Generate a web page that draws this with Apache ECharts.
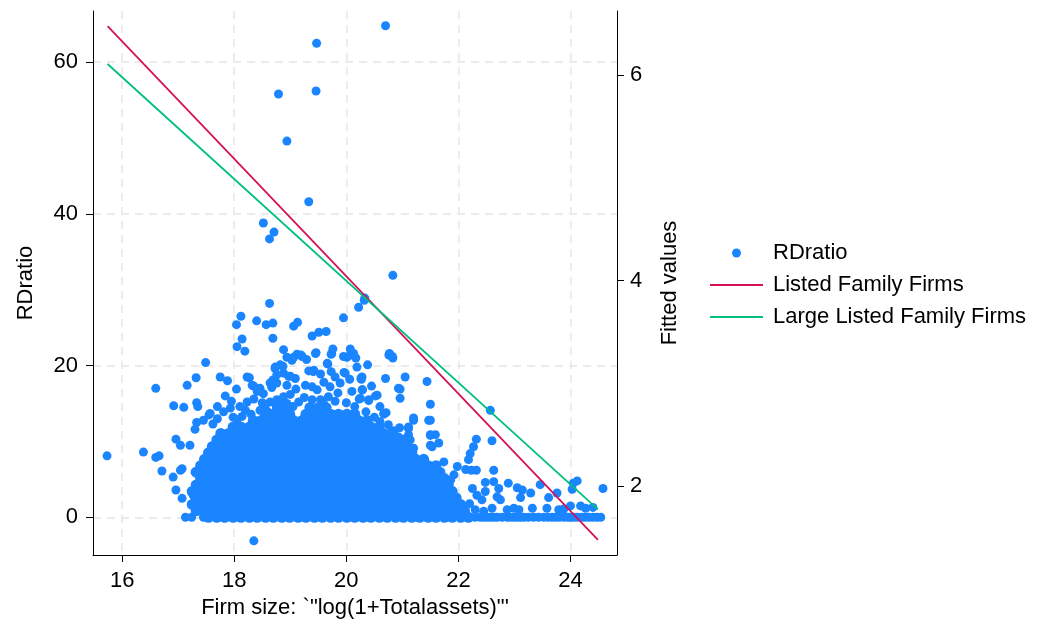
<!DOCTYPE html>
<html>
<head>
<meta charset="utf-8">
<style>
html,body{margin:0;padding:0;background:#fff;}
#chart{width:1043px;height:625px;}
</style>
<script src="https://cdn.jsdelivr.net/npm/echarts@6/dist/echarts.min.js"></script>
</head>
<body>
<div id="chart"></div>
<script>
// ---- tick labels ----
const xTicks = [16, 18, 20, 22, 24];
const yLeftTicks = [0, 20, 40, 60];
const yRightTicks = [2, 4, 6];

// ---- series names ----
const seriesNames = ['RDratio', 'Listed Family Firms', 'Large Listed Family Firms'];

// ---- RDratio: scattered points [x, y] ----
const rdScattered = [
  [20.70,64.8],[19.47,62.5],[18.79,55.8],[19.46,56.2],[18.94,49.6],[19.33,41.6],[18.52,38.8],[18.71,37.6],[18.63,36.7],[20.83,31.9],[20.33,28.9],
  [18.63,28.2],[20.22,27.7],[20.32,28.6],[18.12,26.5],[18.04,25.4],[18.40,25.9],[18.57,25.4],[18.69,25.6],[18.69,23.6],[19.06,25.2],[19.13,25.7],[19.95,26.3],
  [19.39,23.9],[19.51,24.4],[19.64,24.5],[18.14,23.5],[18.05,22.5],[18.19,21.9],
  [18.88,22.1],[18.94,21.1],[19.03,20.7],[19.19,21.4],[19.29,20.8],[19.46,21.7],[19.76,22.2],[19.73,21.5],[20.07,22.2],[20.01,21.1],[20.17,21.0],[17.49,20.4],
  [18.73,19.8],[18.87,19.9],[18.76,18.8],[18.69,18.1],[19.00,18.6],[19.09,18.3],[17.75,18.5],[17.88,18.0],[18.23,18.5],[18.27,18.4],[17.32,18.4],[17.16,17.4],[16.60,17.0],[18.04,16.9],
  [18.35,17.3],[18.46,17.0],[18.52,16.3],[18.67,17.1],[18.94,17.4],[19.33,19.3],[19.41,19.2],[19.54,18.9],[19.67,20.2],[19.73,19.2],[19.96,19.1],[20.06,18.2],[20.19,19.8],[20.26,18.3],[20.38,20.1],
  [17.84,16.0],[16.92,14.7],[17.10,14.5],[17.33,15.1],[17.35,14.6],[17.55,13.5],[17.45,12.8],[17.30,11.6],[16.96,10.3],
  [15.73,8.1],[16.38,8.6],[16.60,7.9],[16.66,8.1],[16.71,6.1],[16.91,5.3],[17.04,6.2],[17.07,6.4],[17.04,9.5],[17.21,9.5],[17.33,12.5],
  [16.96,3.6],[17.07,2.5],[17.27,2.9],[17.13,0],[17.24,0],[17.45,0],[18.35,-3.1],
  [17.81,13.9],[17.93,14.4],[17.57,13.7],[18.32,17.4],[18.41,16.6],[18.64,17.7],[18.73,19.6],[18.82,20.1],[18.88,19.0],[18.97,18.6],[18.76,17.7],
  [18.23,15.2],[18.20,14.1],[18.14,13.3],[18.46,14.1],[18.64,15.2],[18.76,15.5],[18.94,15.0],[18.88,15.9],[19.42,19.4],[19.66,20.3],[19.74,21.6],
  [19.45,21.6],[19.12,21.5],[19.06,21.1],[19.21,21.2],[19.27,17.4],[19.39,17.2],[19.48,16.8],[19.54,15.5],[19.39,15.5],[19.71,17.2],[19.89,17.7],
  [19.98,19.0],[20.10,16.6],[20.28,16.8],[20.25,15.7],[20.40,15.5],[20.55,16.1],[19.95,21.2],[20.07,21.4],[20.28,18.5],[20.13,21.6],[20.67,13.7],
  [20.76,21.4],[20.82,21.2],[20.93,17.0],[20.96,15.7],[21.05,18.5],[20.70,18.3],[21.44,17.9],[21.50,14.9],[21.47,12.8],[21.20,13.1],[21.11,11.7],
  [20.93,10.6],[21.14,10.2],[21.20,9.1],[21.14,7.6],[21.50,10.9],[21.59,10.9],[21.53,9.3],[21.65,9.8],
  [22.57,14.1],[20.96,16.9],[20.77,21.6],[20.83,21.0],[20.27,18.2],[20.29,16.8],[20.23,15.6],[20.40,15.4],[20.52,16.0],[20.67,13.6],[20.71,13.8],
  [22.32,10.3],[22.60,10.1],
  [24.58,3.8],[24.12,4.8],[24.05,4.5],[24.03,3.7],[23.76,3.2],[23.61,2.6],[23.46,4.3],[23.29,3.2],[23.11,2.6],[23.14,3.6],[23.05,3.9],[22.89,4.5],
  [22.72,3.8],[22.63,4.7],[22.48,4.6],[22.27,9.3],[22.21,8.4],[22.18,7.6],[22.23,6.2],[22.32,6.2],[22.63,6.2],[21.74,7.3],[21.41,6.6],[21.50,9.5],
  [21.50,10.8],[21.11,11.9],[21.20,12.8],[21.50,12.8],[21.11,10.9],[20.95,9.3],[21.98,6.7],[22.13,6.3],[21.92,5.6],[21.86,4.9],
  [22.99,1.2],[22.87,1.0],[23.08,1.0],[23.32,1.2],[23.58,1.2],[23.79,1.0],[23.88,1.1],[24.00,1.5],[24.18,1.5],[24.27,1.2],[24.40,1.3],
  [24.12,0],[23.73,0],[23.52,0],[23.34,0],[23.17,0],[23.05,0],[22.87,0],[22.69,0],[22.51,0],[22.39,0],[22.30,0],[24.00,0],[24.33,0],[24.54,0],
  [23.88,0],[23.67,0],[22.99,0],[22.78,0],[22.57,0],
  [22.45,0],[22.63,0],[22.93,0],[23.11,0],[23.25,0],[23.43,0],[23.60,0],[23.80,0],[23.95,0],[24.06,0],[24.20,0],[24.26,0],[24.40,0],[24.47,0],
  [22.69,2.7],[22.75,2.3],[22.48,3.4],[22.42,2.3],[22.33,2.9],[22.25,3.8],[22.30,1.0],[22.45,0.8],[22.60,1.2],[22.20,1.8],
  [17.62,12.3],[17.70,13.0],[17.98,13.2],[18.05,12.9],[18.30,13.6],[18.55,14.4],[18.60,13.9],[18.85,14.9],[19.05,14.6],[19.15,15.2],[19.25,15.8],
  [19.60,14.9],[19.68,15.9],[19.80,15.3],[19.85,16.4],[20.00,15.1],[20.15,14.6],[20.35,13.9],[20.50,13.2],[20.60,12.6],[20.75,12.2],[20.85,11.4],
  [20.95,11.8],[18.10,14.6],[18.35,15.6],[18.50,15.1],[19.00,16.2],[19.10,16.9],[19.60,17.8],[19.80,18.5],[20.45,17.3],[20.60,14.6],[17.95,15.3],[17.70,14.6]
];

// ---- RDratio: dense core, one RDratio level per row with the firm sizes in that row ----
const coreRowY = [0, 0.85, 1.7, 2.55, 3.4, 4.25, 5.1, 5.95, 6.8, 7.65, 8.5, 9.35, 10.2, 11.05, 11.9, 12.75, 13.6, 14.45];
const coreRowX = [
  [17.54,17.69,17.83,17.98,18.12,18.27,18.41,18.56,18.70,18.85,18.99,19.14,19.28,19.43,19.57,19.72,19.86,20.01,20.15,20.30,20.44,20.59,20.73,20.88,21.02,21.17,21.31,21.46,21.60,21.75,21.89,22.04,22.18],
  [17.32,17.47,17.61,17.76,17.90,18.05,18.19,18.34,18.48,18.63,18.77,18.92,19.06,19.21,19.35,19.50,19.64,19.79,19.93,20.08,20.22,20.37,20.51,20.66,20.80,20.95,21.09,21.24,21.38,21.53,21.67,21.82,21.96,22.11],
  [17.25,17.40,17.54,17.69,17.83,17.98,18.12,18.27,18.41,18.56,18.70,18.85,18.99,19.14,19.28,19.43,19.57,19.72,19.86,20.01,20.15,20.30,20.44,20.59,20.73,20.88,21.02,21.17,21.31,21.46,21.60,21.75,21.89,22.04],
  [17.32,17.47,17.61,17.76,17.90,18.05,18.19,18.34,18.48,18.63,18.77,18.92,19.06,19.21,19.35,19.50,19.64,19.79,19.93,20.08,20.22,20.37,20.51,20.66,20.80,20.95,21.09,21.24,21.38,21.53,21.67,21.82,21.96],
  [17.25,17.40,17.54,17.69,17.83,17.98,18.12,18.27,18.41,18.56,18.70,18.85,18.99,19.14,19.28,19.43,19.57,19.72,19.86,20.01,20.15,20.30,20.44,20.59,20.73,20.88,21.02,21.17,21.31,21.46,21.60,21.75,21.89],
  [17.32,17.47,17.61,17.76,17.90,18.05,18.19,18.34,18.48,18.63,18.77,18.92,19.06,19.21,19.35,19.50,19.64,19.79,19.93,20.08,20.22,20.37,20.51,20.66,20.80,20.95,21.09,21.24,21.38,21.53,21.67,21.82],
  [17.40,17.54,17.69,17.83,17.98,18.12,18.27,18.41,18.56,18.70,18.85,18.99,19.14,19.28,19.43,19.57,19.72,19.86,20.01,20.15,20.30,20.44,20.59,20.73,20.88,21.02,21.17,21.31,21.46,21.60,21.75],
  [17.32,17.47,17.61,17.76,17.90,18.05,18.19,18.34,18.48,18.63,18.77,18.92,19.06,19.21,19.35,19.50,19.64,19.79,19.93,20.08,20.22,20.37,20.51,20.66,20.80,20.95,21.09,21.24,21.38,21.53,21.67],
  [17.40,17.54,17.69,17.83,17.98,18.12,18.27,18.41,18.56,18.70,18.85,18.99,19.14,19.28,19.43,19.57,19.72,19.86,20.01,20.15,20.30,20.44,20.59,20.73,20.88,21.02,21.17,21.31,21.46,21.60],
  [17.47,17.61,17.76,17.90,18.05,18.19,18.34,18.48,18.63,18.77,18.92,19.06,19.21,19.35,19.50,19.64,19.79,19.93,20.08,20.22,20.37,20.51,20.66,20.80,20.95,21.09,21.24,21.38],
  [17.54,17.69,17.83,17.98,18.12,18.27,18.41,18.56,18.70,18.85,18.99,19.14,19.28,19.43,19.57,19.72,19.86,20.01,20.15,20.30,20.44,20.59,20.73,20.88,21.02,21.17],
  [17.61,17.76,17.90,18.05,18.19,18.34,18.48,18.63,18.77,18.92,19.06,19.21,19.35,19.50,19.64,19.79,19.93,20.08,20.22,20.37,20.51,20.66,20.80,20.95,21.09],
  [17.69,17.83,17.98,18.12,18.27,18.41,18.56,18.70,18.85,18.99,19.14,19.28,19.43,19.57,19.72,19.86,20.01,20.15,20.30,20.44,20.59,20.73,20.88,21.02],
  [17.76,17.90,18.05,18.19,18.34,18.48,18.63,18.77,18.92,19.06,19.21,19.35,19.50,19.64,19.79,19.93,20.08,20.22,20.37,20.51,20.66,20.80],
  [17.98,18.12,18.27,18.41,18.56,18.70,18.85,18.99,19.14,19.28,19.43,19.57,19.72,19.86,20.01,20.15,20.30,20.44,20.59],
  [18.34,18.48,18.63,18.77,18.92,19.06,19.21,19.35,19.50,19.64,19.79,19.93,20.08,20.22,20.37],
  [18.56,18.70,18.85,18.99,19.28,19.43,19.57,19.72,19.86,20.01,20.15],
  [18.77,18.92,19.35,19.50,19.64]
];

// ---- fitted lines (right axis): [firm size, fitted value] at both ends ----
const fitListed = [[15.74, 6.476], [24.49, 1.479]];
const fitLarge = [[15.74, 6.107], [24.49, 1.777]];

// build tables for the library
const corePoints = [];
coreRowY.forEach((y, i) => coreRowX[i].forEach(x => corePoints.push([x, y])));

const FONT = "'Liberation Sans', Helvetica, Arial, sans-serif";
const FS = 22;
const gridLine = { show: true, lineStyle: { color: '#e6e6e6', width: 1.5, type: [8, 6] } };
const txt = { fontSize: FS, color: '#000', fontFamily: FONT };
const lineIcon = 'path://M0,0H100V3.4H0Z';

const chart = echarts.init(document.getElementById('chart'), null, { renderer: 'canvas' });
chart.setOption({
  animation: false,
  backgroundColor: '#fff',
  textStyle: { fontFamily: FONT },
  grid: { left: 93, top: 11, width: 524, height: 544, containLabel: false },
  legend: {
    orient: 'vertical', left: 705, top: 237,
    itemWidth: 53, itemHeight: 9, itemGap: 10, symbolKeepAspect: true,
    textStyle: Object.assign({ padding: [0, 0, 0, 5] }, txt),
    data: [
      { name: seriesNames[0], icon: 'circle' },
      { name: seriesNames[1], icon: lineIcon },
      { name: seriesNames[2], icon: lineIcon }
    ]
  },
  xAxis: {
    type: 'value', min: 15.48, max: 24.83,
    name: 'Firm size: `"log(1+Totalassets)"\'', nameLocation: 'middle', nameGap: 42,
    nameTextStyle: txt,
    axisLine: { show: true, onZero: false, lineStyle: { color: '#000', width: 1 } },
    axisTick: { show: true, length: 7, customValues: xTicks, lineStyle: { color: '#000' } },
    axisLabel: Object.assign({ customValues: xTicks, margin: 15 }, txt),
    splitLine: gridLine
  },
  yAxis: [
    {
      type: 'value', min: -4.97, max: 66.75, position: 'left',
      name: 'RDratio', nameLocation: 'middle', nameGap: 56, nameTextStyle: txt,
      axisLine: { show: true, onZero: false, lineStyle: { color: '#000', width: 1 } },
      axisTick: { show: true, length: 7, customValues: yLeftTicks, lineStyle: { color: '#000' } },
      axisLabel: Object.assign({ customValues: yLeftTicks, margin: 15 }, txt),
      splitLine: gridLine
    },
    {
      type: 'value', min: 1.333, max: 6.622, position: 'right',
      name: 'Fitted values', nameLocation: 'middle', nameGap: 42, nameTextStyle: txt,
      axisLine: { show: true, onZero: false, lineStyle: { color: '#000', width: 1 } },
      axisTick: { show: true, length: 7, customValues: yRightTicks, lineStyle: { color: '#000' } },
      axisLabel: Object.assign({ customValues: yRightTicks, margin: 13 }, txt),
      splitLine: { show: false }
    }
  ],
  series: [
    {
      name: seriesNames[0], type: 'scatter', yAxisIndex: 0,
      symbol: 'circle', symbolSize: 9,
      itemStyle: { color: '#1a85ff', opacity: 1 },
      data: rdScattered, z: 2
    },
    {
      name: seriesNames[0], type: 'scatter', yAxisIndex: 0,
      symbol: 'circle', symbolSize: 11,
      itemStyle: { color: '#1a85ff', opacity: 1 },
      data: corePoints, z: 2
    },
    {
      name: seriesNames[1], type: 'line', yAxisIndex: 1, symbol: 'none',
      lineStyle: { color: '#d41159', width: 1.8 }, itemStyle: { color: '#d41159' },
      data: fitListed, z: 3
    },
    {
      name: seriesNames[2], type: 'line', yAxisIndex: 1, symbol: 'none',
      lineStyle: { color: '#00bf7f', width: 1.8 }, itemStyle: { color: '#00bf7f' },
      data: fitLarge, z: 3
    }
  ]
});
</script>
</body>
</html>
